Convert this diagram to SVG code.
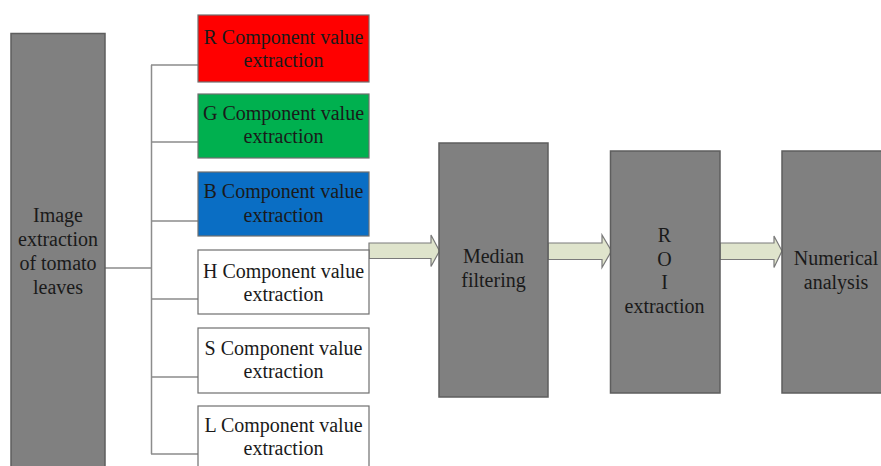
<svg xmlns="http://www.w3.org/2000/svg" width="881" height="466" viewBox="0 0 881 466">
<style>
  .gbox { fill: #808080; stroke: #5e5e5e; stroke-width: 1.5; }
  .cbox { stroke: #6f6f6f; stroke-width: 1.2; }
  .t { font-family: "Liberation Serif", "Times New Roman", serif; font-size: 20px; fill: #1a1a1a; text-anchor: middle; }
  .conn { fill: none; stroke: #8c8c8c; stroke-width: 1.5; }
  .barrow { fill: #dfe4cc; stroke: #7a7a7a; stroke-width: 1.2; stroke-linejoin: miter; }
</style>
<rect width="881" height="466" fill="#ffffff"/>

<g id="connectors">
  <path class="conn" d="M105 268 H151.5 M151.5 65 V454 M151 65 H198 M151 142 H198 M151 221 H198 M151 299 H198 M151 377 H198 M151 454 H198"/>
  <path class="barrow" d="M369 243 H431 V235 L439.5 251 L431 266.5 V258.5 H369 Z"/>
  <path class="barrow" d="M548 243 H602 V235 L611.5 251 L602 267.5 V259.5 H548 Z"/>
  <path class="barrow" d="M720 243 H774 V236 L782 251 L774 267.5 V259.5 H720 Z"/>
</g>

<g id="node-image">
  <rect class="gbox" x="11" y="33.5" width="94" height="440"/>
  <text class="t" x="58" y="222">Image</text>
  <text class="t" x="58" y="246">extraction</text>
  <text class="t" x="58" y="270">of tomato</text>
  <text class="t" x="58" y="294">leaves</text>
</g>

<g id="node-r">
  <rect class="cbox" x="198" y="15" width="171" height="67" fill="#ff0000"/>
  <text class="t" x="283.5" y="44" fill="#2a0000">R Component value</text>
  <text class="t" x="283.5" y="67">extraction</text>
</g>
<g id="node-g">
  <rect class="cbox" x="198" y="94" width="171" height="64" fill="#00b04f"/>
  <text class="t" x="283.5" y="120">G Component value</text>
  <text class="t" x="283.5" y="143">extraction</text>
</g>
<g id="node-b">
  <rect class="cbox" x="198" y="172" width="171" height="64" fill="#0a6ec4"/>
  <text class="t" x="283.5" y="198">B Component value</text>
  <text class="t" x="283.5" y="222">extraction</text>
</g>
<g id="node-h">
  <rect class="cbox" x="198" y="250" width="171" height="64" fill="#ffffff"/>
  <text class="t" x="283.5" y="278">H Component value</text>
  <text class="t" x="283.5" y="301">extraction</text>
</g>
<g id="node-s">
  <rect class="cbox" x="198" y="328" width="171" height="65" fill="#ffffff"/>
  <text class="t" x="283.5" y="355">S Component value</text>
  <text class="t" x="283.5" y="378">extraction</text>
</g>
<g id="node-l">
  <rect class="cbox" x="198" y="406" width="171" height="66" fill="#ffffff"/>
  <text class="t" x="283.5" y="432">L Component value</text>
  <text class="t" x="283.5" y="455">extraction</text>
</g>

<g id="node-median">
  <rect class="gbox" x="439" y="143" width="109" height="254"/>
  <text class="t" x="493.5" y="263">Median</text>
  <text class="t" x="493.5" y="287">filtering</text>
</g>
<g id="node-roi">
  <rect class="gbox" x="610.5" y="151" width="109.5" height="242"/>
  <text class="t" x="664.5" y="242">R</text>
  <text class="t" x="664.5" y="266">O</text>
  <text class="t" x="664.5" y="289">I</text>
  <text class="t" x="664.5" y="313">extraction</text>
</g>
<g id="node-numerical">
  <rect class="gbox" x="782" y="151" width="120" height="242"/>
  <text class="t" x="836" y="265">Numerical</text>
  <text class="t" x="836" y="289">analysis</text>
</g>
</svg>
